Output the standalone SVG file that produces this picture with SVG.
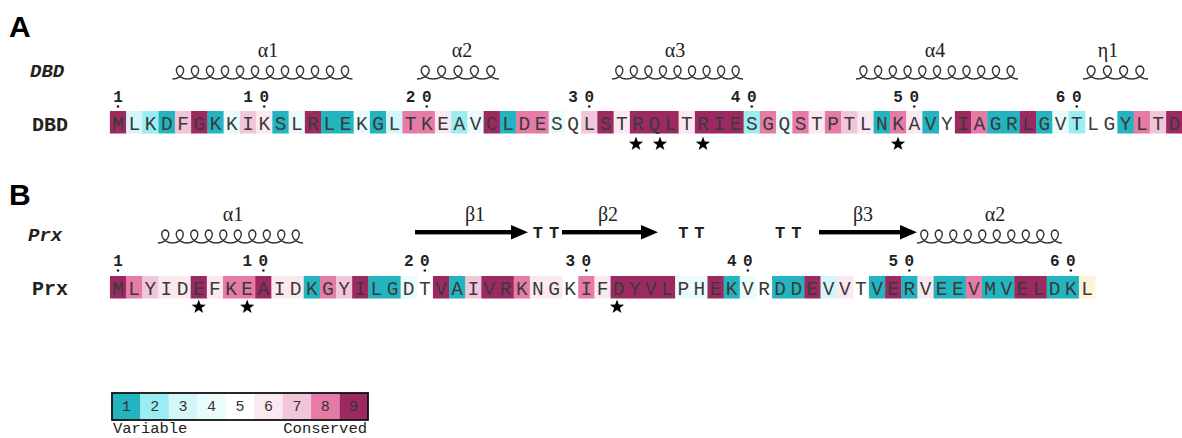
<svg xmlns="http://www.w3.org/2000/svg" xmlns:xlink="http://www.w3.org/1999/xlink" width="1182" height="438" viewBox="0 0 1182 438">
<style>
.g1{fill:#22b5bf}.g2{fill:#9aeef2}.g3{fill:#d4f6f8}.g4{fill:#eafbfb}.g5{fill:#ffffff}.g6{fill:#fbe9f1}.g7{fill:#f2c6da}.g8{fill:#e67ba8}.g9{fill:#9c2a61}.gY{fill:#fdf3d6}
.panel{font-family:"Liberation Sans",Arial,sans-serif;font-weight:bold;font-size:30px;fill:#000}
.seq{font-family:"Liberation Mono","Courier New",monospace;font-size:19.5px;fill:#3a3a3a;text-anchor:middle}
.num{font-family:"Liberation Mono","Courier New",monospace;font-weight:bold;font-size:16px;fill:#222;text-anchor:middle}
.rowlab{font-family:"Liberation Mono","Courier New",monospace;font-weight:bold;font-size:20px;fill:#222}
.itlab{font-family:"Liberation Mono","Courier New",monospace;font-weight:bold;font-style:italic;font-size:19px;fill:#222}
.ss{font-family:"Liberation Serif","Times New Roman",serif;font-size:20px;fill:#222;text-anchor:middle}
.tt{font-family:"Liberation Mono","Courier New",monospace;font-weight:bold;font-size:17px;fill:#222;text-anchor:middle}
.coil{fill:none;stroke:#333;stroke-width:1.4;stroke-linejoin:round;vector-effect:non-scaling-stroke}
.dot{fill:#222}
.leg{font-family:"Liberation Mono","Courier New",monospace;font-size:15.5px;fill:#222}
.legn{font-family:"Liberation Mono","Courier New",monospace;font-size:15px;fill:#333;text-anchor:middle}
</style>
<defs>
<path id="lp" class="coil" d="M0,13 L3.617,12.51 L6.826,11.1 L9.281,8.99 L10.75,6.5 L11.155,4.01 L10.575,1.9 L9.242,0.49 L7.5,0 L5.758,0.49 L4.425,1.9 L3.845,4.01 L4.25,6.5 L5.719,8.99 L8.174,11.1 L11.383,12.51 L15,13"/>
<polygon id="star" fill="#000" points="0,-7.5 1.76,-2.42 7.13,-2.32 2.85,0.92 4.41,6.07 0,3 -4.41,6.07 -2.85,0.92 -7.13,-2.32 -1.76,-2.42"/>
</defs>

<g id="panelA">
<text class="panel" x="9" y="37">A</text>
<text class="itlab" x="30" y="77">DBD</text>
<text class="rowlab" x="32" y="131">DBD</text>

<g id="dbd-ss">
<text class="ss" x="268" y="57">α1</text>
<g transform="translate(172.5,66)"><use href="#lp" x="0"/><use href="#lp" x="15"/><use href="#lp" x="30"/><use href="#lp" x="45"/><use href="#lp" x="60"/><use href="#lp" x="75"/><use href="#lp" x="90"/><use href="#lp" x="105"/><use href="#lp" x="120"/><use href="#lp" x="135"/><use href="#lp" x="150"/><use href="#lp" x="165"/></g>
<text class="ss" x="462" y="57">α2</text>
<g transform="translate(417,66) scale(1.093,1)"><use href="#lp" x="0"/><use href="#lp" x="15"/><use href="#lp" x="30"/><use href="#lp" x="45"/><use href="#lp" x="60"/></g>
<text class="ss" x="675" y="57">α3</text>
<g transform="translate(612,66) scale(0.97,1)"><use href="#lp" x="0"/><use href="#lp" x="15"/><use href="#lp" x="30"/><use href="#lp" x="45"/><use href="#lp" x="60"/><use href="#lp" x="75"/><use href="#lp" x="90"/><use href="#lp" x="105"/><use href="#lp" x="120"/></g>
<text class="ss" x="935" y="57">α4</text>
<g transform="translate(856,66) scale(0.982,1)"><use href="#lp" x="0"/><use href="#lp" x="15"/><use href="#lp" x="30"/><use href="#lp" x="45"/><use href="#lp" x="60"/><use href="#lp" x="75"/><use href="#lp" x="90"/><use href="#lp" x="105"/><use href="#lp" x="120"/><use href="#lp" x="135"/><use href="#lp" x="150"/></g>
<text class="ss" x="1108" y="57">η1</text>
<g transform="translate(1083,66) scale(1.083,1)"><use href="#lp" x="0"/><use href="#lp" x="15"/><use href="#lp" x="30"/><use href="#lp" x="45"/></g>
</g>

<g id="dbd-numbers">
<text class="num" x="118" y="102">1</text>
<text class="num" x="248 264.25" y="102">10</text>
<text class="num" x="410.5 426.75" y="102">20</text>
<text class="num" x="573 589.25" y="102">30</text>
<text class="num" x="735.5 751.75" y="102">40</text>
<text class="num" x="898 914.25" y="102">50</text>
<text class="num" x="1060.5 1076.75" y="102">60</text>
<circle class="dot" cx="118" cy="106.5" r="1.3"/><circle class="dot" cx="264.25" cy="106.5" r="1.3"/><circle class="dot" cx="426.75" cy="106.5" r="1.3"/><circle class="dot" cx="589.25" cy="106.5" r="1.3"/><circle class="dot" cx="751.75" cy="106.5" r="1.3"/><circle class="dot" cx="914.25" cy="106.5" r="1.3"/><circle class="dot" cx="1076.75" cy="106.5" r="1.3"/>
</g>

<g id="dbd-shading">
<rect class="g9" x="109.875" y="111" width="16.65" height="22.5"/>
<rect class="g3" x="126.125" y="111" width="16.65" height="22.5"/>
<rect class="g2" x="142.375" y="111" width="16.65" height="22.5"/>
<rect class="g1" x="158.625" y="111" width="16.65" height="22.5"/>
<rect class="g7" x="174.875" y="111" width="16.65" height="22.5"/>
<rect class="g9" x="191.125" y="111" width="16.65" height="22.5"/>
<rect class="g1" x="207.375" y="111" width="16.65" height="22.5"/>
<rect class="g4" x="223.625" y="111" width="16.65" height="22.5"/>
<rect class="g7" x="239.875" y="111" width="16.65" height="22.5"/>
<rect class="g6" x="256.125" y="111" width="16.65" height="22.5"/>
<rect class="g1" x="272.375" y="111" width="16.65" height="22.5"/>
<rect class="g4" x="288.625" y="111" width="16.65" height="22.5"/>
<rect class="g9" x="304.875" y="111" width="16.65" height="22.5"/>
<rect class="g1" x="321.125" y="111" width="32.9" height="22.5"/>
<rect class="g4" x="353.625" y="111" width="16.65" height="22.5"/>
<rect class="g1" x="369.875" y="111" width="16.65" height="22.5"/>
<rect class="g3" x="386.125" y="111" width="16.65" height="22.5"/>
<rect class="g8" x="402.375" y="111" width="32.9" height="22.5"/>
<rect class="g6" x="434.875" y="111" width="16.65" height="22.5"/>
<rect class="g2" x="451.125" y="111" width="16.65" height="22.5"/>
<rect class="g4" x="467.375" y="111" width="16.65" height="22.5"/>
<rect class="g9" x="483.625" y="111" width="16.65" height="22.5"/>
<rect class="g1" x="499.875" y="111" width="16.65" height="22.5"/>
<rect class="g8" x="516.125" y="111" width="32.9" height="22.5"/>
<rect class="g4" x="548.625" y="111" width="16.65" height="22.5"/>
<rect class="g7" x="581.125" y="111" width="16.65" height="22.5"/>
<rect class="g9" x="597.375" y="111" width="16.65" height="22.5"/>
<rect class="g6" x="613.625" y="111" width="16.65" height="22.5"/>
<rect class="g9" x="629.875" y="111" width="49.15" height="22.5"/>
<rect class="g6" x="678.625" y="111" width="16.65" height="22.5"/>
<rect class="g9" x="694.875" y="111" width="49.15" height="22.5"/>
<rect class="g2" x="743.625" y="111" width="16.65" height="22.5"/>
<rect class="g8" x="759.875" y="111" width="16.65" height="22.5"/>
<rect class="g4" x="776.125" y="111" width="16.65" height="22.5"/>
<rect class="g8" x="792.375" y="111" width="16.65" height="22.5"/>
<rect class="g6" x="808.625" y="111" width="16.65" height="22.5"/>
<rect class="g8" x="824.875" y="111" width="16.65" height="22.5"/>
<rect class="g7" x="841.125" y="111" width="16.65" height="22.5"/>
<rect class="g6" x="857.375" y="111" width="16.65" height="22.5"/>
<rect class="g1" x="873.625" y="111" width="16.65" height="22.5"/>
<rect class="g8" x="889.875" y="111" width="16.65" height="22.5"/>
<rect class="g6" x="906.125" y="111" width="16.65" height="22.5"/>
<rect class="g1" x="922.375" y="111" width="16.65" height="22.5"/>
<rect class="g9" x="954.875" y="111" width="16.65" height="22.5"/>
<rect class="g8" x="971.125" y="111" width="16.65" height="22.5"/>
<rect class="g1" x="987.375" y="111" width="32.9" height="22.5"/>
<rect class="g9" x="1019.875" y="111" width="16.65" height="22.5"/>
<rect class="g1" x="1036.125" y="111" width="16.65" height="22.5"/>
<rect class="g4" x="1052.375" y="111" width="16.65" height="22.5"/>
<rect class="g2" x="1068.625" y="111" width="16.65" height="22.5"/>
<rect class="g1" x="1117.375" y="111" width="16.65" height="22.5"/>
<rect class="g8" x="1133.625" y="111" width="16.65" height="22.5"/>
<rect class="g7" x="1149.875" y="111" width="16.65" height="22.5"/>
<rect class="g9" x="1166.125" y="111" width="16.65" height="22.5"/>
</g>

<text id="dbd-seq" class="seq" y="129.5" x="118 134.25 150.5 166.75 183 199.25 215.5 231.75 248 264.25 280.5 296.75 313 329.25 345.5 361.75 378 394.25 410.5 426.75 443 459.25 475.5 491.75 508 524.25 540.5 556.75 573 589.25 605.5 621.75 638 654.25 670.5 686.75 703 719.25 735.5 751.75 768 784.25 800.5 816.75 833 849.25 865.5 881.75 898 914.25 930.5 946.75 963 979.25 995.5 1011.75 1028 1044.25 1060.5 1076.75 1093 1109.25 1125.5 1141.75 1158 1174.25">MLKDFGKKIKSLRLEKGLTKEAVCLDESQLSTRQLTRIESGQSTPTLNKAVYIAGRLGVTLGYLTD</text>

<g id="dbd-stars">
<use href="#star" x="636" y="144"/><use href="#star" x="660" y="144"/><use href="#star" x="703" y="144"/><use href="#star" x="898" y="144"/>
</g>
</g>

<g id="panelB">
<text class="panel" x="9" y="205">B</text>
<text class="itlab" x="28" y="241">Prx</text>
<text class="rowlab" x="32" y="295">Prx</text>

<g id="prx-ss">
<text class="ss" x="233" y="221">α1</text>
<g transform="translate(158,230) scale(0.967,1)"><use href="#lp" x="0"/><use href="#lp" x="15"/><use href="#lp" x="30"/><use href="#lp" x="45"/><use href="#lp" x="60"/><use href="#lp" x="75"/><use href="#lp" x="90"/><use href="#lp" x="105"/><use href="#lp" x="120"/><use href="#lp" x="135"/></g>
<text class="ss" x="475" y="221">β1</text>
<rect x="415" y="230" width="98" height="4.4" fill="#000"/>
<polygon points="511,225 528,232.2 511,239.4" fill="#000"/>
<text class="tt" x="537.9 554.05" y="238">TT</text>
<text class="ss" x="608" y="221">β2</text>
<rect x="562" y="230" width="82" height="4.4" fill="#000"/>
<polygon points="641,225 658,232.2 641,239.4" fill="#000"/>
<text class="tt" x="683.25 699.4" y="238">TT</text>
<text class="tt" x="780.15 796.3" y="238">TT</text>
<text class="ss" x="863" y="221">β3</text>
<rect x="819" y="230" width="84" height="4.4" fill="#000"/>
<polygon points="900,225 917,232.2 900,239.4" fill="#000"/>
<text class="ss" x="995" y="221">α2</text>
<g transform="translate(917,230) scale(0.967,1)"><use href="#lp" x="0"/><use href="#lp" x="15"/><use href="#lp" x="30"/><use href="#lp" x="45"/><use href="#lp" x="60"/><use href="#lp" x="75"/><use href="#lp" x="90"/><use href="#lp" x="105"/><use href="#lp" x="120"/><use href="#lp" x="135"/></g>
</g>

<g id="prx-numbers">
<text class="num" x="118" y="266">1</text>
<text class="num" x="247.2 263.35" y="266">10</text>
<text class="num" x="408.7 424.85" y="266">20</text>
<text class="num" x="570.2 586.35" y="266">30</text>
<text class="num" x="731.7 747.85" y="266">40</text>
<text class="num" x="893.2 909.35" y="266">50</text>
<text class="num" x="1054.7 1070.85" y="266">60</text>
<circle class="dot" cx="118" cy="270.5" r="1.3"/><circle class="dot" cx="263.35" cy="270.5" r="1.3"/><circle class="dot" cx="424.85" cy="270.5" r="1.3"/><circle class="dot" cx="586.35" cy="270.5" r="1.3"/><circle class="dot" cx="747.85" cy="270.5" r="1.3"/><circle class="dot" cx="909.35" cy="270.5" r="1.3"/><circle class="dot" cx="1070.85" cy="270.5" r="1.3"/>
</g>

<g id="prx-shading">
<rect class="g9" x="109.925" y="276" width="16.55" height="22.5"/>
<rect class="g8" x="126.075" y="276" width="16.55" height="22.5"/>
<rect class="g7" x="142.225" y="276" width="16.55" height="22.5"/>
<rect class="g6" x="158.375" y="276" width="32.7" height="22.5"/>
<rect class="g9" x="190.675" y="276" width="16.55" height="22.5"/>
<rect class="g6" x="206.825" y="276" width="16.55" height="22.5"/>
<rect class="g8" x="222.975" y="276" width="32.7" height="22.5"/>
<rect class="g9" x="255.275" y="276" width="16.55" height="22.5"/>
<rect class="g6" x="271.425" y="276" width="32.7" height="22.5"/>
<rect class="g1" x="303.725" y="276" width="16.55" height="22.5"/>
<rect class="g8" x="319.875" y="276" width="16.55" height="22.5"/>
<rect class="g7" x="336.025" y="276" width="16.55" height="22.5"/>
<rect class="g9" x="352.175" y="276" width="16.55" height="22.5"/>
<rect class="g1" x="368.325" y="276" width="32.7" height="22.5"/>
<rect class="g4" x="400.625" y="276" width="16.55" height="22.5"/>
<rect class="g9" x="432.925" y="276" width="16.55" height="22.5"/>
<rect class="g1" x="449.075" y="276" width="16.55" height="22.5"/>
<rect class="g7" x="465.225" y="276" width="16.55" height="22.5"/>
<rect class="g9" x="481.375" y="276" width="32.7" height="22.5"/>
<rect class="g8" x="513.675" y="276" width="16.55" height="22.5"/>
<rect class="g6" x="529.825" y="276" width="32.7" height="22.5"/>
<rect class="g8" x="578.275" y="276" width="16.55" height="22.5"/>
<rect class="g6" x="594.425" y="276" width="16.55" height="22.5"/>
<rect class="g9" x="610.575" y="276" width="65" height="22.5"/>
<rect class="g4" x="675.175" y="276" width="32.7" height="22.5"/>
<rect class="g9" x="707.475" y="276" width="16.55" height="22.5"/>
<rect class="g1" x="723.625" y="276" width="16.55" height="22.5"/>
<rect class="g4" x="739.775" y="276" width="16.55" height="22.5"/>
<rect class="g1" x="772.075" y="276" width="32.7" height="22.5"/>
<rect class="g9" x="804.375" y="276" width="16.55" height="22.5"/>
<rect class="g3" x="820.525" y="276" width="16.55" height="22.5"/>
<rect class="g6" x="836.675" y="276" width="16.55" height="22.5"/>
<rect class="g1" x="868.975" y="276" width="16.55" height="22.5"/>
<rect class="g9" x="885.125" y="276" width="16.55" height="22.5"/>
<rect class="g1" x="901.275" y="276" width="16.55" height="22.5"/>
<rect class="g6" x="917.425" y="276" width="16.55" height="22.5"/>
<rect class="g1" x="933.575" y="276" width="32.7" height="22.5"/>
<rect class="g8" x="965.875" y="276" width="16.55" height="22.5"/>
<rect class="g1" x="982.025" y="276" width="32.7" height="22.5"/>
<rect class="g9" x="1014.325" y="276" width="32.7" height="22.5"/>
<rect class="g1" x="1046.625" y="276" width="32.7" height="22.5"/>
<rect class="gY" x="1078.925" y="276" width="16.55" height="22.5"/>
</g>

<text id="prx-seq" class="seq" y="294.5" x="118 134.15 150.3 166.45 182.6 198.75 214.9 231.05 247.2 263.35 279.5 295.65 311.8 327.95 344.1 360.25 376.4 392.55 408.7 424.85 441 457.15 473.3 489.45 505.6 521.75 537.9 554.05 570.2 586.35 602.5 618.65 634.8 650.95 667.1 683.25 699.4 715.55 731.7 747.85 764 780.15 796.3 812.45 828.6 844.75 860.9 877.05 893.2 909.35 925.5 941.65 957.8 973.95 990.1 1006.25 1022.4 1038.55 1054.7 1070.85 1087">MLYIDEFKEAIDKGYILGDTVAIVRKNGKIFDYVLPHEKVRDDEVVTVERVEEVMVELDKL</text>

<g id="prx-stars">
<use href="#star" x="198.75" y="307"/><use href="#star" x="247.2" y="307"/><use href="#star" x="617" y="307"/>
</g>
</g>

<g id="legend">
<rect class="g1" x="112" y="393" width="28.44" height="27"/>
<rect class="g2" x="140.44" y="393" width="28.44" height="27"/>
<rect class="g3" x="168.88" y="393" width="28.44" height="27"/>
<rect class="g4" x="197.32" y="393" width="28.44" height="27"/>
<rect class="g5" x="225.76" y="393" width="28.44" height="27"/>
<rect class="g6" x="254.2" y="393" width="28.44" height="27"/>
<rect class="g7" x="282.64" y="393" width="28.44" height="27"/>
<rect class="g8" x="311.08" y="393" width="28.44" height="27"/>
<rect class="g9" x="339.52" y="393" width="28.48" height="27"/>
<rect x="112" y="393" width="256" height="27" fill="none" stroke="#111" stroke-width="1.8"/>
<text class="legn" x="126.2 154.7 183.1 211.6 240 268.4 296.9 325.3 353.8" y="411">123456789</text>
<text class="leg" x="113" y="433">Variable</text>
<text class="leg" x="367" y="433" text-anchor="end">Conserved</text>
</g>
</svg>
